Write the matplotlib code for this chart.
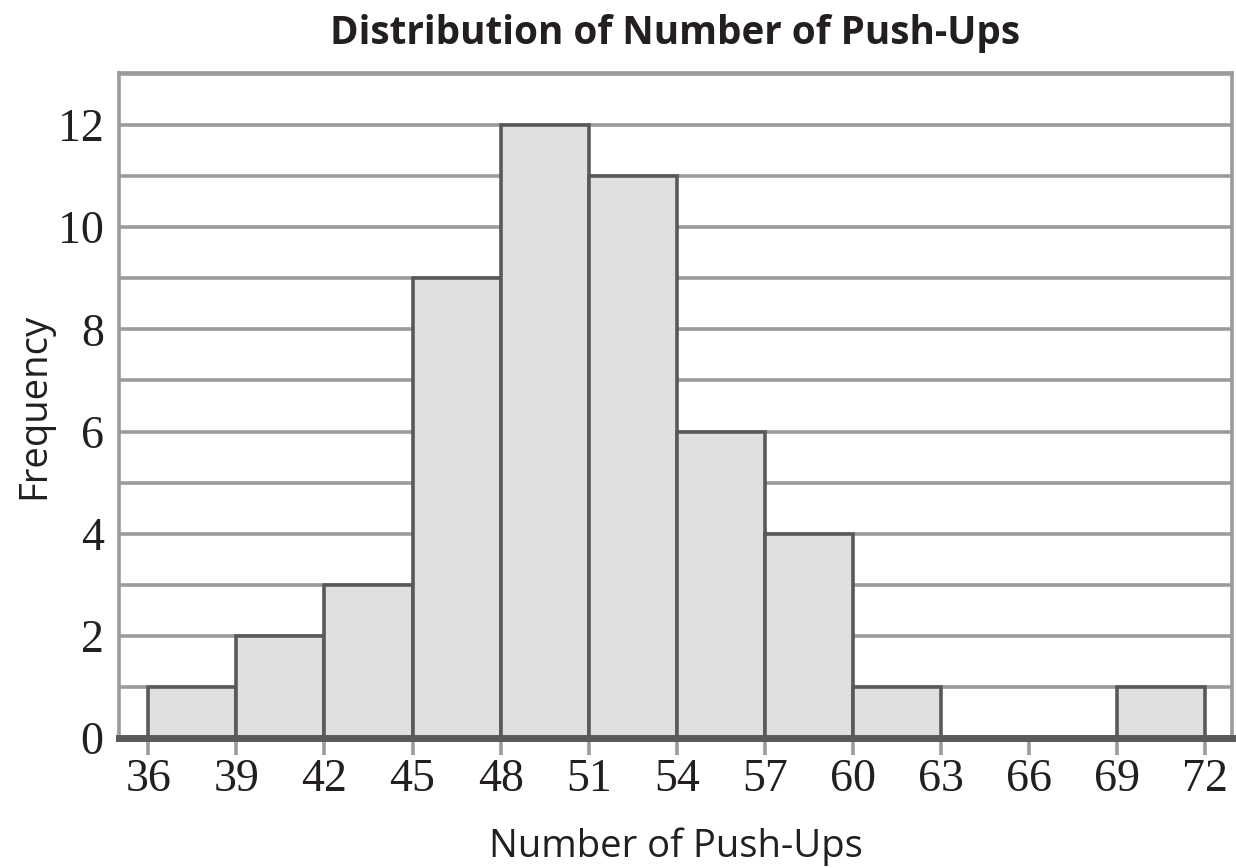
import numpy as np
import matplotlib
matplotlib.use("Agg")
from matplotlib import pyplot as plt

# histogram data
bin_edges = [36, 39, 42, 45, 48, 51, 54, 57, 60, 63, 66, 69, 72]
counts = [1, 2, 3, 9, 12, 11, 6, 4, 1, 0, 0, 1]
y_ticks = [0, 2, 4, 6, 8, 10, 12]

grid_col = "#9b9b9e"
dark = "#58595b"
fill = "#dfe0e2"

fig = plt.figure(figsize=(12.36, 8.68), dpi=100)
ax = fig.add_axes([0.0963, 0.1498, 0.9005, 0.7661])

# horizontal grid at every unit
for yv in range(1, 14):
    ax.axhline(yv, color=grid_col, lw=2.6, zorder=1)

lefts = np.array(bin_edges[:-1])
widths = np.diff(bin_edges)
ax.bar(lefts, counts, width=widths, align="edge", color=fill,
       edgecolor=dark, linewidth=2.6, zorder=2)

# thick baseline
ax.axhline(0, color=dark, lw=5, zorder=3, clip_on=False)

ax.set_xlim(35.0, 72.92)
ax.set_ylim(0, 13.02)

for s in ["left", "top", "right"]:
    ax.spines[s].set_color(grid_col)
    ax.spines[s].set_linewidth(2.6)
ax.spines["bottom"].set_visible(False)

ax.set_xticks(bin_edges)
ax.set_yticks(y_ticks)
ax.tick_params(axis="x", direction="out", length=12, width=2.6, color=grid_col,
               pad=3)
ax.tick_params(axis="y", length=0, pad=11)
for lab in ax.get_xticklabels() + ax.get_yticklabels():
    lab.set_fontfamily("Liberation Serif")
    lab.set_fontsize(33)
    lab.set_color("#231f20")

ax.set_title("Distribution of Number of Push-Ups", fontfamily="Open Sans",
             fontweight="bold", fontsize=27.8, color="#231f20", pad=21)
ax.set_xlabel("Number of Push-Ups", fontfamily="Open Sans", fontsize=27.5,
              color="#231f20", labelpad=19)
ax.set_ylabel("Frequency", fontfamily="Open Sans", fontsize=27.5,
              color="#231f20", labelpad=3)

fig.savefig("out.png", dpi=100)
